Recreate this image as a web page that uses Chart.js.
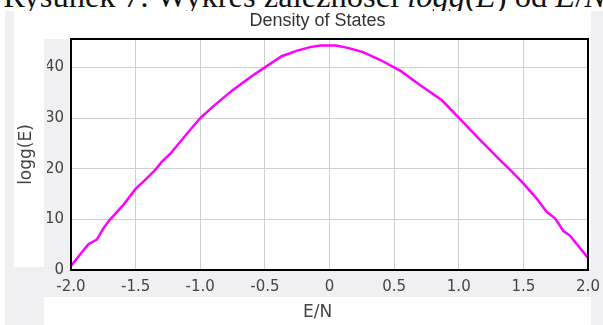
<!DOCTYPE html>
<html>
<head>
<meta charset="utf-8">
<script src="https://cdn.jsdelivr.net/npm/chart.js@4"></script>
<style>
  html, body { margin: 0; padding: 0; background: #fff; }
  #wrap { position: relative; width: 603px; height: 325px; overflow: hidden; }
  .box { position: absolute; }
  .gray { background: #f0f0f2; }
  .white { background: #fff; }
  #caption {
    position: absolute; left: 0; top: -22px; width: 609px; text-align: center;
    font-family: "Liberation Serif", "DejaVu Serif", serif; font-size: 32.5px; line-height: 36px;
    color: #111; white-space: nowrap;
  }
  canvas { position: absolute; left: 0; top: 0; }
</style>
</head>
<body>
<div id="wrap">
  <div id="caption">Rysunek 7: Wykres zależności <i>logg</i>(<i>E</i>) od <i>E</i>/<i>N</i></div>
  <div class="box gray" style="left:5px;top:11px;width:598px;height:314px"></div>
  <div class="box white" style="left:14px;top:11px;width:577px;height:28px"></div>
  <div class="box white" style="left:14px;top:39px;width:30px;height:228px"></div>
  <div class="box white" style="left:71px;top:39px;width:520px;height:231px"></div>
  <div class="box white" style="left:44px;top:297px;width:547px;height:28px"></div>
  <canvas id="dos" width="603" height="325"></canvas>
</div>
<script>
// values
const energyPerN = [-2.0, -1.9, -1.866, -1.8, -1.75, -1.7, -1.6, -1.5, -1.43, -1.35, -1.3, -1.23, -1.1, -1.0,
  -0.9, -0.75, -0.6, -0.5, -0.37, -0.25, -0.15, -0.07, 0.05, 0.15, 0.26, 0.39, 0.55, 0.7, 0.87, 1.0,
  1.15, 1.32, 1.4, 1.5, 1.6, 1.68, 1.745, 1.81, 1.86, 2.0];
const loggE = [0.8, 4.0, 5.1, 6.0, 8.2, 9.9, 12.7, 16.0, 17.7, 19.7, 21.3, 23.0, 27.0, 30.0,
  32.3, 35.5, 38.3, 40.0, 42.2, 43.3, 44.0, 44.3, 44.3, 43.8, 43.0, 41.5, 39.3, 36.5, 33.5, 30.1,
  26.1, 21.7, 19.7, 17.1, 14.2, 11.5, 10.2, 7.7, 6.8, 2.4];

const xTickValues = [-2, -1.5, -1, -0.5, 0, 0.5, 1, 1.5, 2];
const xTickLabels = ["-2.0", "-1.5", "-1.0", "-0.5", "0", "0.5", "1.0", "1.5", "2.0"];
const yTickValues = [0, 10, 20, 30, 40];
const yTickLabels = ["0", "10", "20", "30", "40"];

const points = energyPerN.map((e, i) => ({ x: e, y: loggE[i] }));

// black frame round the plot area
const frame = {
  id: "frame",
  afterDraw(chart) {
    const { ctx, chartArea: a } = chart;
    ctx.save();
    ctx.strokeStyle = "#000";
    ctx.lineWidth = 2;
    ctx.strokeRect(a.left, a.top, a.right - a.left, a.bottom - a.top);
    ctx.restore();
  }
};

const tickFont = { family: "DejaVu Sans", size: 15, lineHeight: "18px" };
const axisFont = { family: "DejaVu Sans", size: 17, lineHeight: "20px" };

new Chart(document.getElementById("dos"), {
  type: "line",
  data: {
    datasets: [{
      data: points,
      borderColor: "#ff00ff",
      borderWidth: 2.5,
      pointRadius: 0,
      tension: 0,
      fill: false
    }]
  },
  options: {
    responsive: false,
    animation: false,
    devicePixelRatio: 1,
    layout: { padding: { left: 47, right: 15, top: 0, bottom: 0 } },
    plugins: {
      legend: { display: false },
      tooltip: { enabled: false },
      title: {
        display: true,
        text: "Density of States",
        color: "#333",
        font: { family: "Liberation Sans", size: 18, weight: "normal", lineHeight: "20px" },
        padding: { top: 11, bottom: 8 }
      },
      subtitle: {
        display: true,
        position: "bottom",
        text: "E/N",
        color: "#444",
        font: axisFont,
        padding: { top: 0, bottom: 2 }
      }
    },
    scales: {
      x: {
        type: "linear",
        min: -2,
        max: 2,
        afterBuildTicks: (axis) => { axis.ticks = xTickValues.map(v => ({ value: v })); },
        afterFit: (axis) => { axis.height = 33; axis.paddingLeft = 0; axis.paddingRight = 0; },
        ticks: {
          color: "#444",
          font: tickFont,
          padding: 8,
          maxRotation: 0,
          callback: (v, i) => xTickLabels[i]
        },
        grid: { color: "#cfcfcf", lineWidth: 1, drawTicks: false },
        border: { display: false }
      },
      y: {
        type: "linear",
        min: 0,
        max: 45.6,
        afterBuildTicks: (axis) => { axis.ticks = yTickValues.map(v => ({ value: v })); },
        afterFit: (axis) => { axis.width = 24; axis.paddingTop = 0; axis.paddingBottom = 0; },
        ticks: {
          color: "#444",
          font: tickFont,
          padding: 7,
          callback: (v, i) => yTickLabels[i]
        },
        grid: { color: "#cfcfcf", lineWidth: 1, drawTicks: false },
        border: { display: false },
        title: {
          display: true,
          text: "logg(E)",
          color: "#444",
          font: axisFont,
          padding: { top: -30, bottom: 0 }
        }
      }
    }
  },
  plugins: [frame]
});
</script>
</body>
</html>
